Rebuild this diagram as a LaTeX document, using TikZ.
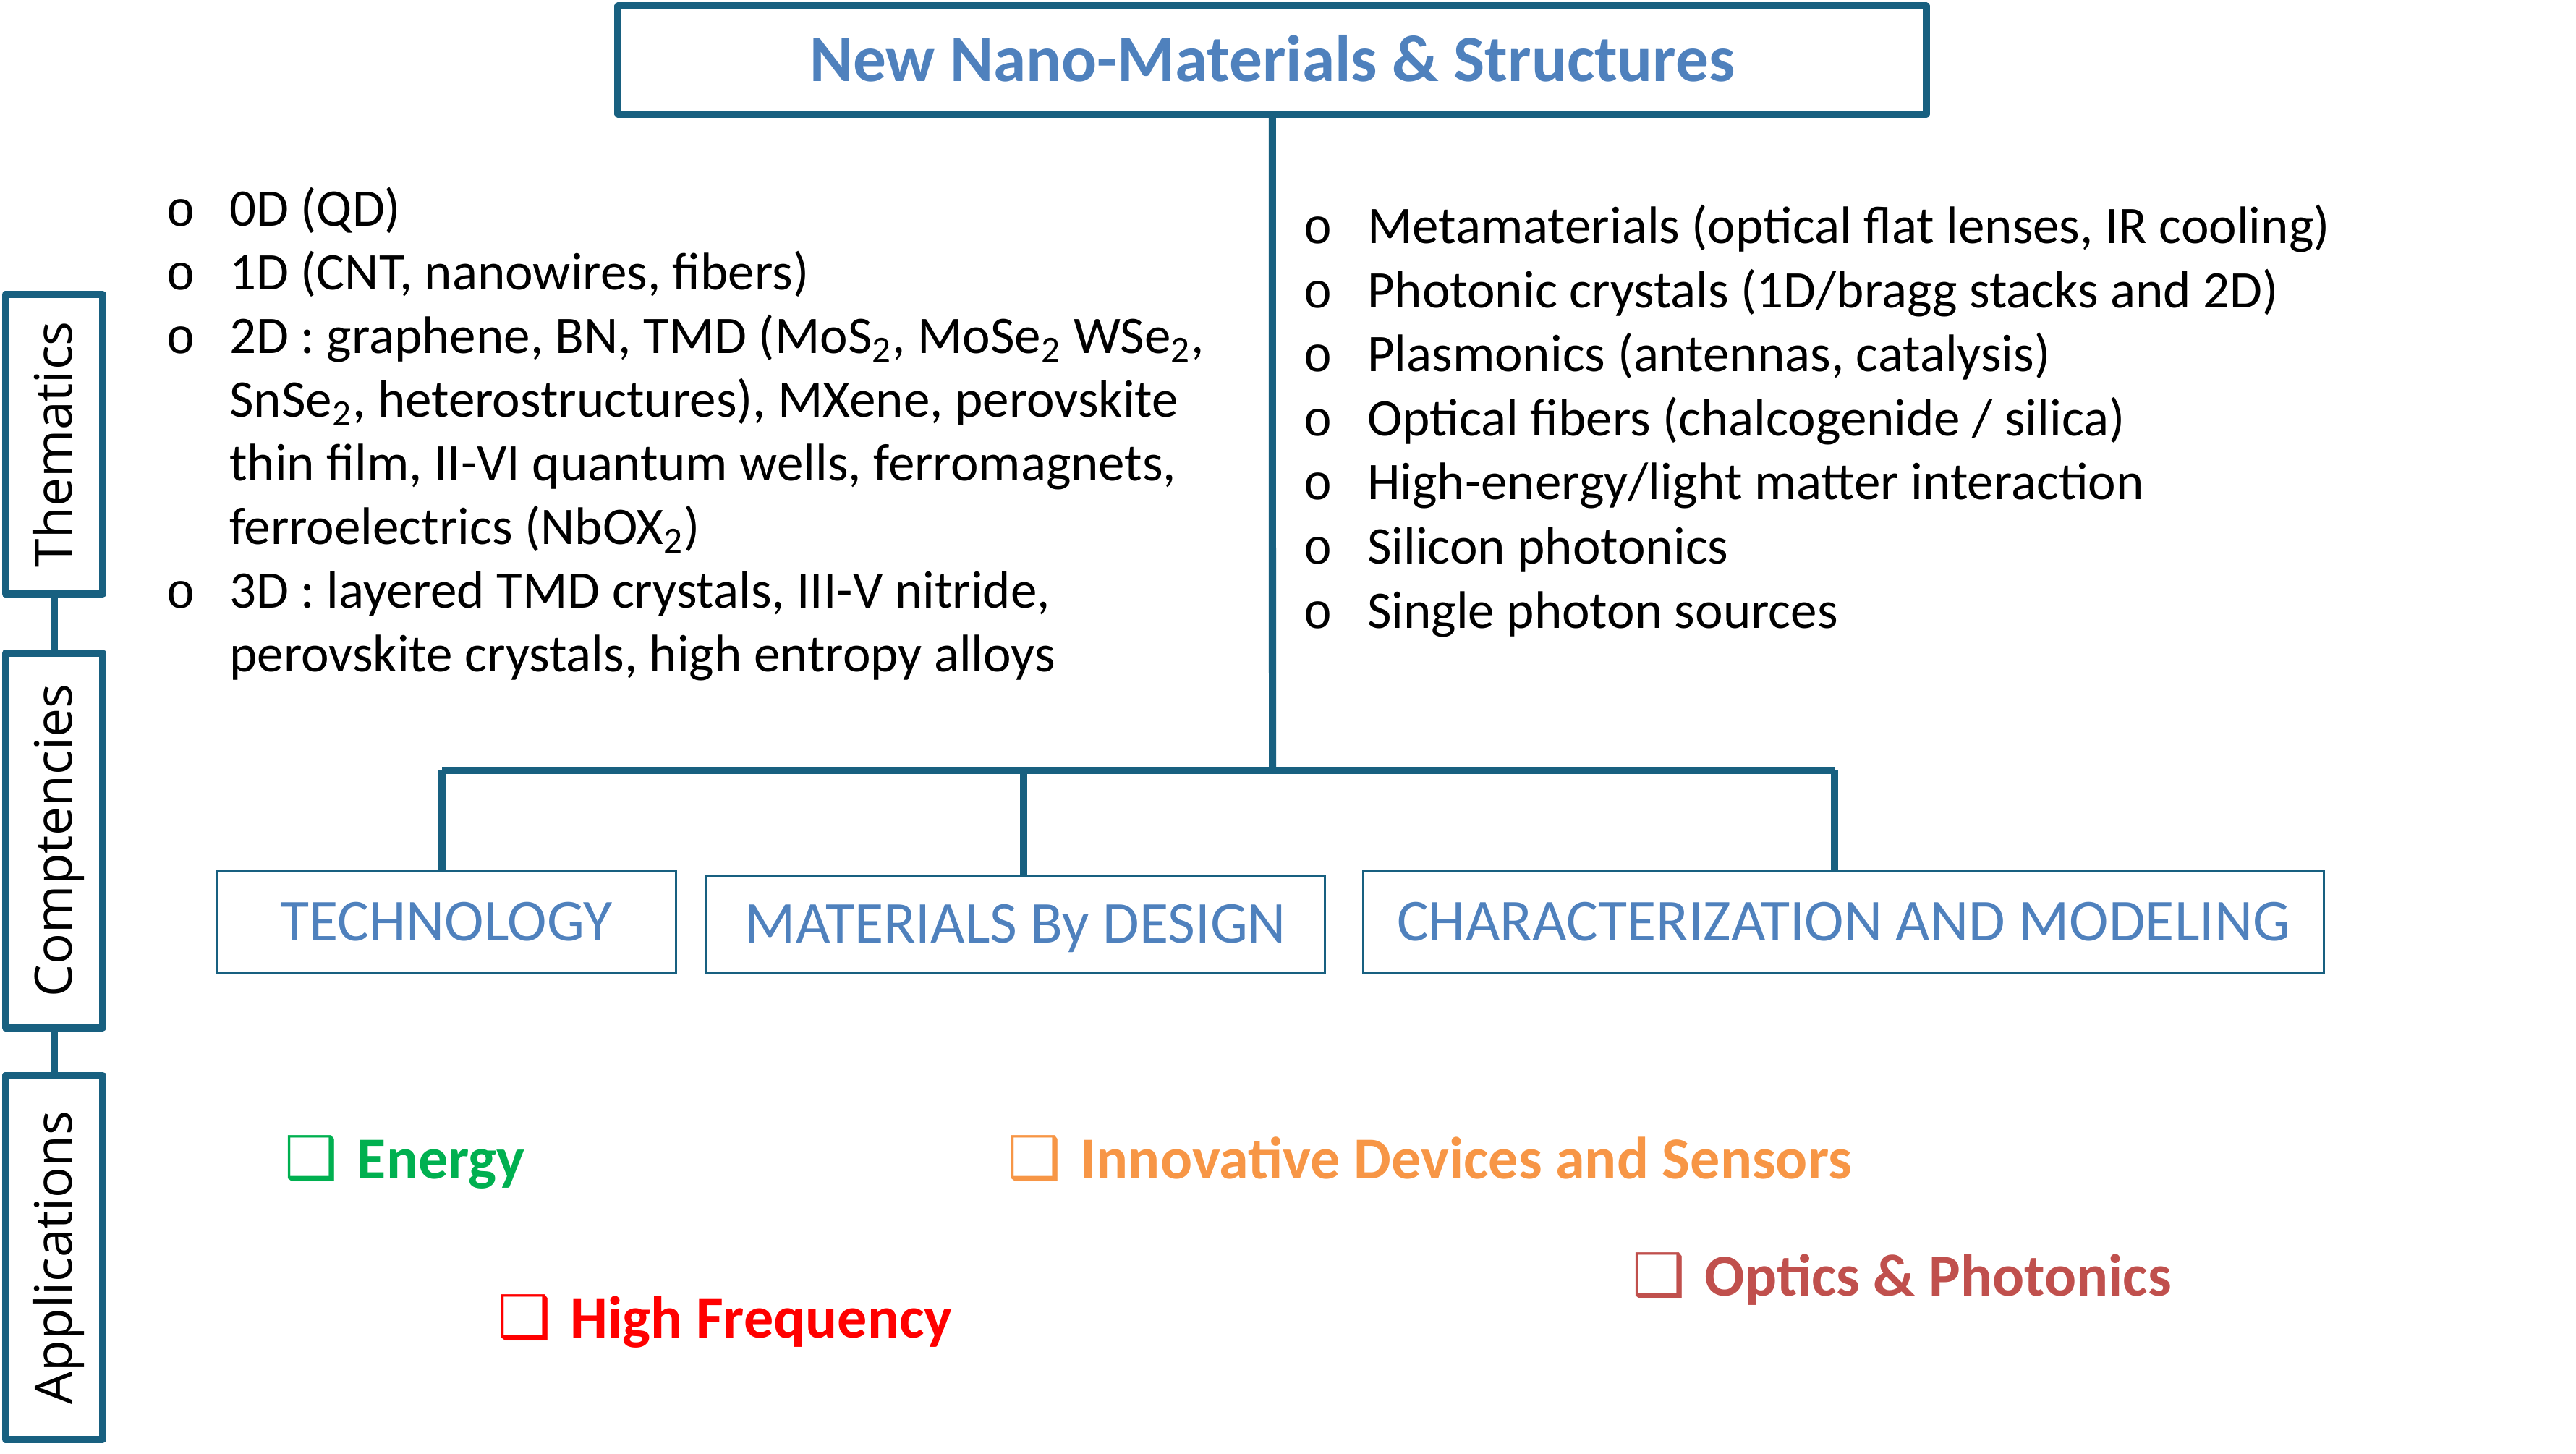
\documentclass[tikz,border=0pt]{standalone}
\usepackage{fontspec}
\setmainfont{Carlito}
\newfontfamily\opensans{Open Sans}
\newfontfamily\dejavu{DejaVu Sans}
\newfontfamily\monob{Liberation Mono}
\definecolor{frame}{RGB}{24,96,128}
\definecolor{headblue}{RGB}{79,129,189}
\definecolor{appgreen}{RGB}{0,176,80}
\definecolor{apporange}{RGB}{247,150,70}
\definecolor{appred}{RGB}{255,0,0}
\definecolor{appbrick}{RGB}{192,80,77}
\newcommand{\bul}{\makebox[19.3pt][l]{\monob\fontsize{15}{15}\selectfont o}}
\newcommand{\ind}{\hspace*{19.3pt}}
\newcommand{\chk}{\makebox[22pt][l]{\dejavu\bfseries\fontsize{18}{18}\selectfont ❑}}
\newcommand{\lines}[1]{\parbox[t]{420pt}{\raggedright #1}}
\tikzset{
  heavy/.style={draw=frame, line width=2.2pt, line join=round},
  link/.style={draw=frame, line width=2.2pt},
  compbox/.style={draw=frame, line width=0.65pt, text=headblue,
    font=\fontsize{18}{21}\selectfont, text height=11.2pt, text depth=0pt, inner sep=0pt},
  sidebox/.style={heavy, rotate=90, font=\opensans\fontsize{15.6}{19}\selectfont,
    text height=11.1pt, text depth=0pt, inner sep=0pt, minimum height=29.4pt},
  item/.style={anchor=base west, align=left, inner sep=0pt,
    font=\fontsize{16}{19.3}\selectfont},
  app/.style={anchor=base west, inner sep=0pt, font=\bfseries\fontsize{18}{21}\selectfont},
}
\begin{document}
\begin{tikzpicture}[x=0.5pt, y=-0.5pt]
\useasboundingbox (0,0) rectangle (1560,880.5);
% title
\node[heavy, minimum width=396.2pt, minimum height=32.8pt, inner sep=0pt,
  text=headblue, font=\bfseries\fontsize{20}{24}\selectfont,
  text height=12.8pt, text depth=0pt] (title) at (770.5,36.5) {New Nano-Materials \& Structures};
% hub / bar
\coordinate (hub) at (770.6,466.7);
\coordinate (barL) at (267.7,466.7);
\coordinate (barM) at (620,466.7);
\coordinate (barR) at (1111,466.7);
% competency boxes
\node[compbox, minimum width=139pt, minimum height=31pt] (tech) at (270.35,558.35) {TECHNOLOGY};
\node[compbox, minimum width=187.3pt, minimum height=29.35pt] (mat) at (615,560) {MATERIALS By DESIGN};
\node[compbox, minimum width=290.8pt, minimum height=30.85pt] (char) at (1116.5,558.5) {CHARACTERIZATION AND MODELING};
\draw[link] (title.south) -- (hub);
\draw[link] (barL) -- (barR);
\draw[link] (barL) -- (barL |- tech.north);
\draw[link] (barM) -- (barM |- mat.north);
\draw[link] (barR) -- (barR |- char.north);
% side boxes
\node[sidebox, minimum width=90.8pt] (them) at (32.7,269) {Thematics};
\node[sidebox, minimum width=113.3pt] (comp) at (32.7,509) {Comptencies};
\node[sidebox, minimum width=110.3pt] (appl) at (32.7,761.5) {Applications};
\draw[link] (them.west) -- (comp.east);
\draw[link] (comp.west) -- (appl.east);
% left list
\node[item] (l1) at (100,137) {\bul 0D (QD)};
\node[item] (l2) at (100,175.5) {\bul 1D (CNT, nanowires, fibers)};
\node[item] (l3) at (100,214) {\lines{\bul 2D : graphene, BN, TMD (MoS\textsubscript{2}, MoSe\textsubscript{2} WSe\textsubscript{2},\\
  \ind SnSe\textsubscript{2}, heterostructures), MXene, perovskite\\
  \ind thin film, II-VI quantum wells, ferromagnets,\\
  \ind ferroelectrics (NbOX\textsubscript{2})}};
\node[item] (l4) at (100,368) {\lines{\bul 3D : layered TMD crystals, III-V nitride,\\
  \ind perovskite crystals, high entropy alloys}};
% right list
\node[item] (r1) at (789,147.5) {\bul Metamaterials (optical flat lenses, IR cooling)};
\node[item] (r2) at (789,186.3) {\bul Photonic crystals (1D/bragg stacks and 2D)};
\node[item] (r3) at (789,225.1) {\bul Plasmonics (antennas, catalysis)};
\node[item] (r4) at (789,263.9) {\bul Optical fibers (chalcogenide / silica)};
\node[item] (r5) at (789,302.7) {\bul High-energy/light matter interaction};
\node[item] (r6) at (789,341.5) {\bul Silicon photonics};
\node[item] (r7) at (789,380.3) {\bul Single photon sources};
% applications
\node[app, text=appgreen] (energy) at (172,714) {\chk Energy};
\node[app, text=apporange] (devices) at (610,714) {\chk Innovative Devices and Sensors};
\node[app, text=appred] (hf) at (301,810) {\chk High Frequency};
\node[app, text=appbrick] (optics) at (988,785) {\chk Optics \& Photonics};
\end{tikzpicture}
\end{document}
